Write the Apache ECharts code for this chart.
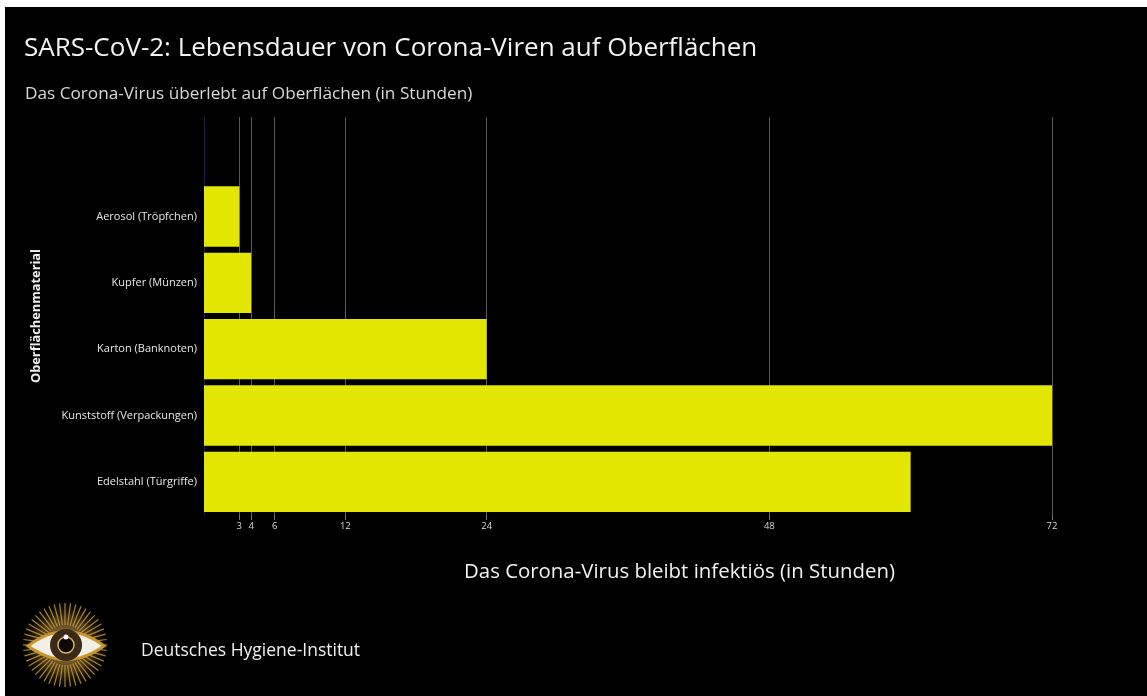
<!DOCTYPE html>
<html>
<head>
<meta charset="utf-8">
<script src="https://cdn.jsdelivr.net/npm/echarts@6/dist/echarts.min.js"></script>
<style>
  html, body { margin: 0; padding: 0; background: #fff; }
  #main { width: 1147px; height: 696px; }
</style>
</head>
<body>
<div id="main"></div>
<script>
// Kategorien von oben nach unten (oberste Zeile bleibt leer)
const categories = ['', 'Aerosol (Tröpfchen)', 'Kupfer (Münzen)', 'Karton (Banknoten)', 'Kunststoff (Verpackungen)', 'Edelstahl (Türgriffe)']
const hours = [null, 3, 4, 24, 72, 60]
const tickValues = [3, 4, 6, 12, 24, 48, 72]

const chart = echarts.init(document.getElementById('main'))

// Strahlen fuer das Logo
const rays = []
for (let i = 0; i < 48; i++) {
  const a = i / 48 * Math.PI * 2
  rays.push({
    type: 'line',
    shape: {
      x1: 65 + Math.cos(a) * 20, y1: 645 + Math.sin(a) * 20,
      x2: 65 + Math.cos(a) * 42, y2: 645 + Math.sin(a) * 42
    },
    style: { stroke: 'rgba(214,170,70,0.75)', lineWidth: 1.2 }
  })
}

// Mandelform des Auges
const eyePts = []
for (let i = 0; i <= 20; i++) {
  const t = i / 20
  eyePts.push([28 + 76 * t, 646 - 36 * t * (1 - t) * 1.6])
}
for (let i = 20; i >= 0; i--) {
  const t = i / 20
  eyePts.push([28 + 76 * t, 646 + 34 * t * (1 - t) * 1.6])
}

const option = {
  backgroundColor: '#000',
  textStyle: { fontFamily: 'Open Sans' },
  title: [
    {
      text: 'SARS-CoV-2: Lebensdauer von Corona-Viren auf Oberflächen',
      left: 19, top: 31,
      textStyle: { color: '#f2f2f2', fontSize: 26, fontWeight: 'normal', fontFamily: 'Open Sans' }
    },
    {
      text: 'Das Corona-Virus überlebt auf Oberflächen (in Stunden)',
      left: 20, top: 81,
      textStyle: { color: '#d8d8d8', fontSize: 17.2, fontWeight: 'normal', fontFamily: 'Open Sans' }
    },
    {
      text: 'Das Corona-Virus bleibt infektiös (in Stunden)',
      left: 459, top: 557,
      textStyle: { color: '#f2f2f2', fontSize: 20.4, fontWeight: 'normal', fontFamily: 'Open Sans' }
    },
    {
      text: 'Deutsches Hygiene-Institut',
      left: 136, top: 637,
      textStyle: { color: '#f0f0f0', fontSize: 17.5, fontWeight: 'normal', fontFamily: 'Open Sans' }
    }
  ],
  grid: { left: 204, right: 95, top: 117, bottom: 181 },
  xAxis: {
    type: 'value',
    min: 0,
    max: 72,
    axisLine: { show: false },
    axisTick: { show: true, customValues: tickValues, length: 5, lineStyle: { color: '#777' } },
    axisLabel: { customValues: tickValues, color: '#d8d8d8', fontSize: 9.5, margin: 6 },
    splitLine: { show: true, lineStyle: { color: '#5a5a5a', width: 1 } }
  },
  yAxis: {
    type: 'category',
    inverse: true,
    data: categories,
    name: 'Oberflächenmaterial',
    nameLocation: 'middle',
    nameGap: 161,
    nameTextStyle: { color: '#f0f0f0', fontSize: 12.8, fontWeight: 'bold', fontFamily: 'Open Sans' },
    axisLine: { show: true, lineStyle: { color: '#1c1c66', width: 1 } },
    axisTick: { show: false },
    axisLabel: { color: '#e6e6e6', fontSize: 11, margin: 7 },
    splitLine: { show: false }
  },
  series: [
    {
      type: 'bar',
      data: hours,
      barCategoryGap: '9%',
      itemStyle: { color: '#e3e600' },
      silent: true
    }
  ],
  graphic: [
    { type: 'rect', shape: { x: 0, y: 0, width: 1147, height: 7 }, style: { fill: '#fff' }, z: 100 },
    { type: 'rect', shape: { x: 0, y: 0, width: 5, height: 696 }, style: { fill: '#fff' }, z: 100 },
    {
      type: 'circle',
      shape: { cx: 65, cy: 645, r: 46 },
      style: {
        fill: {
          type: 'radial', x: 0.5, y: 0.5, r: 0.5,
          colorStops: [
            { offset: 0, color: 'rgba(240,200,110,0.9)' },
            { offset: 0.6, color: 'rgba(150,110,40,0.45)' },
            { offset: 1, color: 'rgba(0,0,0,0)' }
          ]
        }
      }
    },
    ...rays,
    {
      type: 'polygon',
      shape: { points: eyePts },
      style: { fill: '#f4efe4', stroke: '#c9962e', lineWidth: 3 }
    },
    { type: 'circle', shape: { cx: 66, cy: 645, r: 16 }, style: { fill: '#3a2a1a' } },
    { type: 'circle', shape: { cx: 66, cy: 645, r: 8 }, style: { fill: '#0c0804', stroke: '#d8b060', lineWidth: 1.5 } },
    { type: 'circle', shape: { cx: 66, cy: 637, r: 2.5 }, style: { fill: '#fff' } }
  ]
}

chart.setOption(option)
</script>
</body>
</html>
